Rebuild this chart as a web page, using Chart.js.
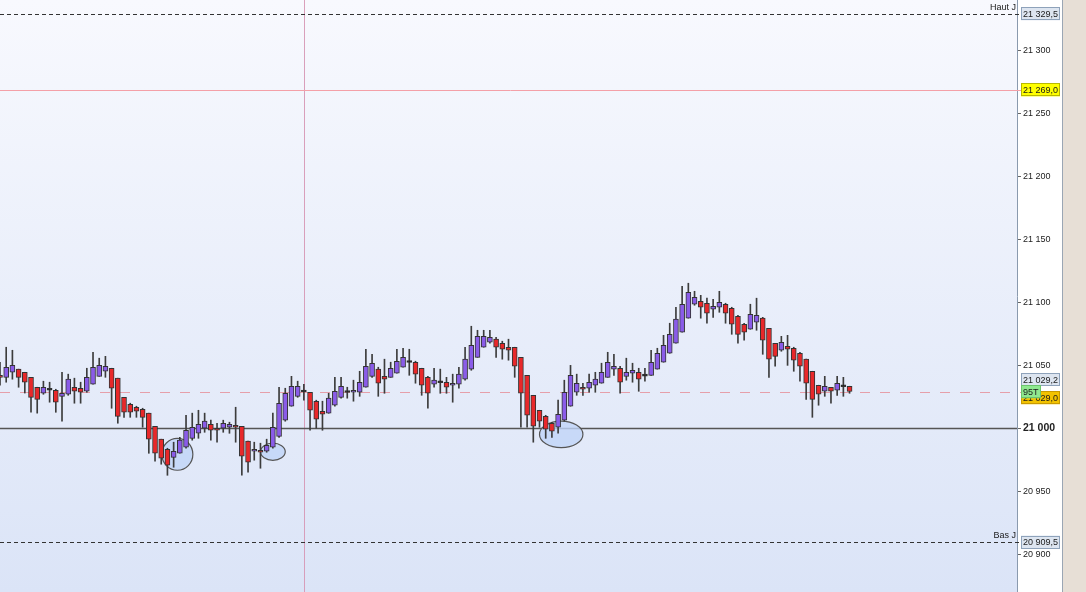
<!DOCTYPE html>
<html>
<head>
<meta charset="utf-8">
<script src="https://cdn.jsdelivr.net/npm/chart.js@4.4.1/dist/chart.umd.min.js"></script>
<style>
html, body { margin: 0; padding: 0; background: #e7dfd6; overflow: hidden; }
#wrap { width: 1086px; height: 592px; }
</style>
</head>
<body>
<div id="wrap"><canvas id="chart" width="1086" height="592"></canvas></div>
<script>
// OHLC, one entry per candle
const opens = [21042.1,21040.5,21044.5,21047.0,21044.5,21040.5,21032.6,21027.8,21030.2,21030.2,
  21025.4,21027.0,21032.6,21031.8,21029.4,21035.0,21041.3,21045.3,21047.7,21039.8,
  21024.6,21019.1,21016.7,21015.1,21012.0,21001.6,20991.3,20983.3,20976.9,20980.1,
  20984.9,20992.0,20996.0,21000.0,21003.2,21000.0,21000.0,21000.8,21002.4,21001.6,
  20989.7,20981.7,20982.5,20981.7,20984.9,20993.6,21006.4,21017.5,21025.4,21029.4,
  21028.6,21021.5,21013.5,21011.9,21018.3,21024.6,21028.8,21028.6,21028.6,21032.6,
  21041.3,21047.0,21041.3,21040.5,21043.7,21048.5,21052.7,21052.5,21047.7,21040.5,
  21035.0,21036.6,21036.6,21034.2,21035.0,21039.0,21047.0,21056.4,21064.4,21068.4,
  21070.8,21067.6,21064.4,21064.4,21056.4,21042.1,21026.2,21014.3,21009.5,21004.0,
  21000.8,21006.4,21017.5,21028.6,21032.6,21031.8,21034.2,21035.8,21040.5,21047.0,
  21047.7,21041.3,21043.7,21044.5,21041.5,21042.1,21047.0,21052.5,21059.6,21067.6,
  21076.3,21087.5,21098.6,21101.0,21099.4,21094.6,21096.2,21098.6,21095.4,21089.0,
  21082.7,21078.7,21084.3,21087.5,21079.5,21067.6,21062.0,21065.2,21063.6,21059.6,
  21054.9,21045.3,21034.2,21029.4,21032.6,21030.2,21033.4,21033.4];
const highs = [21052.5,21064.4,21062.0,21047.0,21044.5,21040.5,21032.6,21037.4,21036.6,21031.0,
  21044.5,21043.0,21039.8,21036.6,21047.7,21060.4,21055.7,21057.2,21047.7,21039.8,
  21024.6,21019.9,21017.5,21015.9,21012.0,21001.6,20991.3,20984.1,20988.9,20992.8,
  21010.3,21012.0,21014.3,21012.0,21006.4,21004.0,21006.4,21004.8,21016.7,21001.6,
  20989.7,20988.9,20988.1,20991.3,21012.0,21032.6,21031.8,21041.3,21037.4,21035.0,
  21028.6,21022.3,21021.5,21027.8,21040.5,21040.5,21032.6,21038.2,21045.3,21062.8,
  21058.8,21048.5,21054.9,21052.5,21062.8,21063.6,21062.8,21053.3,21047.7,21041.3,
  21047.7,21047.0,21040.5,21043.0,21048.5,21064.4,21081.1,21077.9,21077.9,21077.9,
  21072.3,21069.2,21070.8,21064.4,21056.4,21042.1,21026.2,21014.3,21010.3,21004.8,
  21022.3,21038.2,21050.0,21043.0,21035.8,21043.0,21044.5,21051.7,21060.4,21058.8,
  21049.3,21055.7,21051.7,21047.7,21047.7,21062.0,21063.6,21073.9,21083.5,21096.2,
  21112.9,21115.3,21108.9,21105.7,21103.4,21102.6,21108.9,21099.4,21096.2,21089.8,
  21083.5,21098.6,21103.4,21088.2,21079.5,21067.6,21073.1,21073.9,21064.4,21060.4,
  21054.9,21045.3,21034.2,21041.3,21032.6,21041.3,21040.5,21033.4];
const lows = [21034.2,21036.6,21039.0,21032.6,21028.0,21012.7,21012.0,21027.0,21020.7,21012.7,
  21005.6,21026.2,21019.9,21019.9,21028.6,21035.0,21041.3,21040.5,21015.9,21004.0,
  21008.7,21008.7,21008.7,21000.8,20980.1,20973.8,20971.4,20962.6,20969.0,20980.1,
  20984.1,20990.5,20992.0,20996.8,20990.5,20988.9,20996.8,20996.0,20988.9,20962.6,
  20965.0,20974.6,20968.2,20980.9,20984.1,20992.8,21005.6,21017.5,21024.6,21022.3,
  20998.4,21000.0,20998.4,21011.9,21017.5,21023.9,21023.9,21021.5,21025.4,21032.6,
  21040.5,21025.4,21027.8,21040.5,21043.7,21048.5,21042.1,21035.8,21026.2,21015.9,
  21032.6,21027.8,21027.8,21020.7,21031.8,21038.2,21046.1,21056.4,21064.4,21067.6,
  21056.4,21054.9,21054.1,21040.5,21000.8,21000.8,20988.9,21000.8,20992.0,20992.8,
  20996.0,21005.6,21017.5,21026.2,21026.2,21028.6,21028.6,21035.8,21040.5,21042.1,
  21027.8,21038.2,21036.6,21029.4,21037.4,21042.1,21047.0,21052.5,21059.6,21067.6,
  21076.3,21087.5,21097.8,21087.5,21083.5,21088.2,21092.2,21083.5,21074.7,21067.6,
  21070.0,21078.7,21077.9,21058.8,21040.5,21049.3,21061.2,21050.0,21045.3,21037.4,
  21023.0,21008.7,21018.3,21025.4,21019.9,21026.2,21025.4,21027.8];
const closes = [21040.5,21048.5,21050.0,21040.5,21036.6,21024.6,21023.0,21032.6,21031.0,21020.7,
  21027.8,21039.0,21029.4,21028.6,21040.5,21048.5,21050.0,21049.3,21031.8,21009.5,
  21012.7,21012.7,21013.5,21008.7,20991.3,20980.1,20976.2,20970.6,20981.7,20990.5,
  20998.4,21000.8,21003.2,21005.6,20998.4,20998.4,21004.0,21003.2,21000.8,20977.7,
  20973.0,20983.3,20980.9,20986.5,21000.8,21019.9,21027.8,21033.4,21033.4,21028.8,
  21014.3,21007.2,21011.1,21023.9,21029.4,21033.4,21028.4,21030.2,21036.6,21049.3,
  21051.7,21035.8,21039.0,21047.7,21053.3,21056.4,21052.3,21043.0,21034.2,21027.8,
  21038.2,21036.2,21032.6,21035.8,21043.0,21054.9,21066.0,21073.1,21073.1,21072.3,
  21064.4,21062.8,21062.0,21049.3,21027.8,21010.3,21001.6,21005.6,20999.2,20997.6,
  21011.1,21028.6,21042.1,21035.8,21031.0,21036.6,21039.0,21044.5,21052.5,21049.3,
  21036.6,21044.5,21046.1,21039.0,21041.7,21052.5,21059.6,21066.0,21074.7,21086.7,
  21098.6,21108.1,21104.1,21096.2,21091.4,21097.0,21100.2,21091.4,21082.7,21074.7,
  21076.3,21090.6,21089.8,21070.0,21054.9,21057.2,21068.4,21062.8,21054.1,21049.3,
  21035.8,21023.0,21027.0,21033.4,21029.4,21035.8,21033.0,21029.2];

// one slot per bar period, the right part of the window is still empty
const slotCount = 165;
const categories = Array.from({ length: slotCount }, (_, i) => String(i));

// price scale
const priceMin = 20869.8;
const priceMax = 21340.5;
const priceStep = 50;

// levels drawn across the chart
const dayHigh = 21329.5;
const dayLow = 20909.5;
const alertLevel = 21269.0;
const lastPrice = 21029.2;
const orderLevel = 21029.0;
const pivotLevel = 21000;
const orderTag = '95T';
const cursorIndex = 49;

// circled zones: centre slot, centre price, half width (slots), half height (points)
const zoneX = [28.6, 44.0, 90.5];
const zoneY = [20979.3, 20981.3, 20995.1];
const zoneRX = [2.5, 2.0, 3.5];
const zoneRY = [12.7, 6.8, 10.5];

const UP = '#8a5ce8';
const DOWN = '#e8282a';
const FONT = '"Liberation Sans", Arial, sans-serif';

function fmt(v, dec) {
  const s = v.toFixed(dec).replace('.', ',');
  return s.replace(/^(\d+)(\d{3})/, '$1 $2');
}

const bodyColors = opens.map((o, i) => {
  const c = closes[i];
  if (Math.abs(c - o) < 1) return '#111';
  return c > o ? UP : DOWN;
});

const bgPlugin = {
  id: 'bg',
  beforeDraw(chart) {
    const { ctx, chartArea: a, width, height } = chart;
    ctx.save();
    ctx.fillStyle = '#e7dfd6';
    ctx.fillRect(0, 0, width, height);
    ctx.fillStyle = '#ffffff';
    ctx.fillRect(a.right, 0, 45, height);
    ctx.strokeStyle = '#9aa6b4';
    ctx.lineWidth = 1;
    ctx.beginPath();
    ctx.moveTo(a.right + 45.5, 0);
    ctx.lineTo(a.right + 45.5, height);
    ctx.stroke();
    const g = ctx.createLinearGradient(0, a.top, 0, a.bottom);
    g.addColorStop(0, '#f8f9fe');
    g.addColorStop(1, '#dbe4f7');
    ctx.fillStyle = g;
    ctx.fillRect(a.left, a.top, a.right - a.left, a.bottom - a.top);
    ctx.restore();
  }
};

const overlayPlugin = {
  id: 'overlay',
  beforeDatasetsDraw(chart) {
    const { ctx, chartArea: a, scales: { x, y } } = chart;
    ctx.save();
    function hline(v, color, width, dash, ext) {
      const py = Math.round(y.getPixelForValue(v)) + 0.5;
      ctx.strokeStyle = color;
      ctx.lineWidth = width;
      ctx.setLineDash(dash);
      ctx.beginPath();
      ctx.moveTo(a.left, py);
      ctx.lineTo(a.right + ext, py);
      ctx.stroke();
    }
    // cursor
    const cx = Math.round(x.getPixelForValue(cursorIndex)) + 0.5;
    ctx.strokeStyle = 'rgba(214,150,180,0.9)';
    ctx.lineWidth = 1;
    ctx.beginPath();
    ctx.moveTo(cx, a.top);
    ctx.lineTo(cx, a.bottom);
    ctx.stroke();

    hline(dayHigh, '#333', 1, [4, 3], 4);
    hline(dayLow, '#333', 1, [4, 3], 4);
    hline(alertLevel, '#f4a0a8', 1, [], 4);
    hline(orderLevel, 'rgba(230,140,150,0.8)', 1, [10, 10], 4);
    hline(pivotLevel, '#555', 1.5, [], 0);
    ctx.setLineDash([]);

    // circled zones
    const step = x.getPixelForValue(1) - x.getPixelForValue(0);
    const ppp = Math.abs(y.getPixelForValue(0) - y.getPixelForValue(1));
    zoneX.forEach((zx, i) => {
      ctx.beginPath();
      ctx.ellipse(x.getPixelForValue(zx), y.getPixelForValue(zoneY[i]),
        zoneRX[i] * step, zoneRY[i] * ppp, 0, 0, Math.PI * 2);
      ctx.fillStyle = 'rgba(192,212,248,0.8)';
      ctx.fill();
      ctx.strokeStyle = '#555';
      ctx.lineWidth = 1.2;
      ctx.stroke();
    });
    ctx.restore();
  },
  afterDraw(chart) {
    const { ctx, chartArea: a, scales: { y } } = chart;
    ctx.save();
    ctx.font = '9px ' + FONT;
    ctx.textBaseline = 'middle';
    function box(v, text, fill, stroke, nudge, w) {
      const cy = y.getPixelForValue(v) + nudge;
      const bx = a.right + 4;
      ctx.fillStyle = fill;
      ctx.fillRect(bx, cy - 6.5, w, 13);
      ctx.strokeStyle = stroke;
      ctx.lineWidth = 1;
      ctx.strokeRect(bx + 0.5, Math.round(cy - 6.5) + 0.5, w - 1, 12);
      ctx.fillStyle = '#1a1a1a';
      ctx.textAlign = 'left';
      ctx.fillText(text, bx + 2, cy + 0.5);
    }
    box(dayHigh, fmt(dayHigh, 1), '#dde5f0', '#8ea2ba', 0, 39);
    box(alertLevel, fmt(alertLevel, 1), '#ffff00', '#b8b800', 0, 39);
    box(lastPrice, fmt(lastPrice, 1), '#dde5f0', '#8ea2ba', -12, 39);
    box(orderLevel, fmt(orderLevel, 1), '#f2c200', '#c89a00', 6, 39);
    box(orderLevel, orderTag, '#8fe88f', '#6cc46c', 0, 20);
    box(dayLow, fmt(dayLow, 1), '#dde5f0', '#8ea2ba', 0, 39);

    ctx.fillStyle = '#1a1a1a';
    ctx.textAlign = 'right';
    ctx.textBaseline = 'alphabetic';
    ctx.fillText('Haut J', a.right - 1, y.getPixelForValue(dayHigh) - 4);
    ctx.fillText('Bas J', a.right - 1, y.getPixelForValue(dayLow) - 4);
    ctx.restore();
  }
};

const ctx = document.getElementById('chart').getContext('2d');
const chart = new Chart(ctx, {
  type: 'bar',
  data: {
    labels: categories,
    datasets: [{
      label: 'bodies',
      data: opens.map((o, i) => [o, closes[i]]),
      backgroundColor: bodyColors,
      borderColor: '#333',
      borderWidth: 1,
      borderSkipped: false,
      barThickness: 5,
      minBarLength: 2,
      grouped: false,
      order: 0
    }, {
      label: 'wicks',
      data: lows.map((l, i) => [l, highs[i]]),
      backgroundColor: '#3c3c3c',
      borderWidth: 0,
      barThickness: 1,
      grouped: false,
      order: 1
    }]
  },
  options: {
    responsive: false,
    animation: false,
    devicePixelRatio: 1,
    layout: { padding: { left: 0, top: 0, bottom: 0, right: 24 } },
    plugins: { legend: { display: false }, tooltip: { enabled: false } },
    scales: {
      x: {
        type: 'category',
        display: false,
        offset: false
      },
      y: {
        position: 'right',
        min: priceMin,
        max: priceMax,
        afterFit(scale) {
          scale.width = 45;
          scale.paddingTop = 0;
          scale.paddingBottom = 0;
        },
        grid: {
          drawOnChartArea: false,
          drawTicks: true,
          tickLength: 4,
          color: '#666'
        },
        border: { display: true, color: '#8a9aae' },
        ticks: {
          stepSize: priceStep,
          includeBounds: false,
          padding: 2,
          color: '#222',
          font: c => c.tick && c.tick.value === pivotLevel
            ? { family: FONT, size: 10.5, weight: 'bold' }
            : { family: FONT, size: 9 },
          callback: v => fmt(v, 0)
        }
      }
    }
  },
  plugins: [bgPlugin, overlayPlugin]
});
</script>
</body>
</html>
